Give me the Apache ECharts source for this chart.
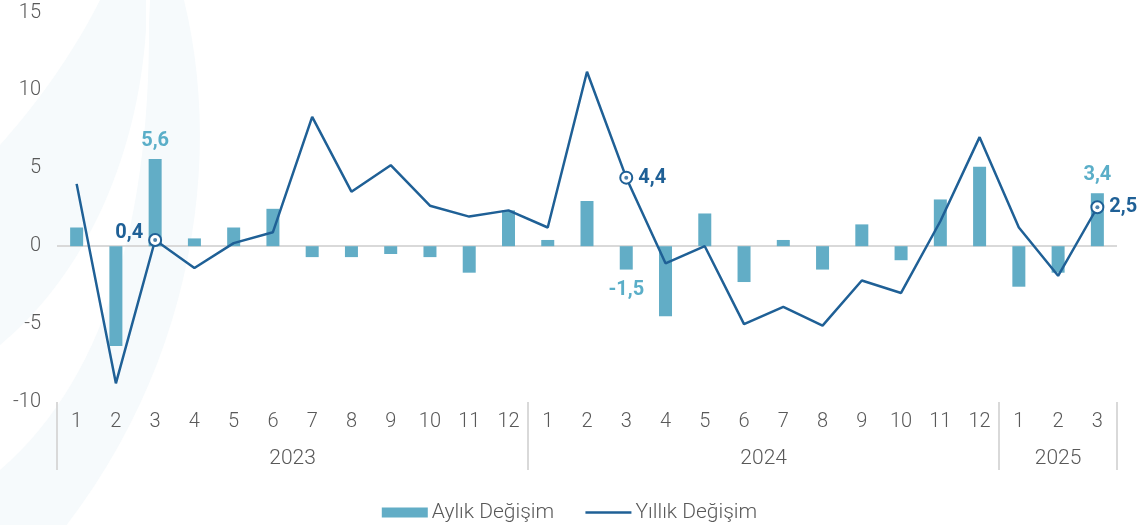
<!DOCTYPE html>
<html>
<head>
<meta charset="utf-8">
<script src="https://cdn.jsdelivr.net/npm/echarts@6/dist/echarts.min.js"></script>
<style>
html,body{margin:0;padding:0;background:#fff;}
#chart{width:1139px;height:525px;}
</style>
</head>
<body>
<div id="chart"></div>
<script>
// ---- data ----
const years = ['2023', '2024', '2025'];
const monthCounts = [12, 12, 3];
const months = ['1','2','3','4','5','6','7','8','9','10','11','12',
                '1','2','3','4','5','6','7','8','9','10','11','12',
                '1','2','3'];
const aylik = [1.2, -6.4, 5.6, 0.5, 1.2, 2.4, -0.7, -0.7, -0.5, -0.7, -1.7, 2.3,
               0.4, 2.9, -1.5, -4.5, 2.1, -2.3, 0.4, -1.5, 1.4, -0.9, 3.0, 5.1,
               -2.6, -1.7, 3.4];
const yillik = [4.0, -8.8, 0.4, -1.4, 0.2, 0.9, 8.3, 3.5, 5.2, 2.6, 1.9, 2.3,
                1.2, 11.2, 4.4, -1.1, 0.0, -5.0, -3.9, -5.1, -2.2, -3.0, 1.6, 7.0,
                1.2, -1.9, 2.5];
const barLabelIdx = [2, 14, 26];
const lineLabelIdx = [2, 14, 26];
const yTicks = [-10, -5, 0, 5, 10, 15];

const BAR = '#62adc6';
const LINE = '#1f6096';
const TXT = '#595959';
const SEP = '#d9d9d9';
const FONT = 'Roboto, "Liberation Sans", sans-serif';

const fmt = v => String(v).replace('.', ',');

// year axis: half-month slots (0..2N) so boundaries and centers are both slots
const totalMonths = monthCounts.reduce((a, b) => a + b, 0);
const yearSlots = [];
const yearLabelSlots = {};
const yearTickSlots = {0: true};
let acc = 0;
monthCounts.forEach((c, i) => {
  yearLabelSlots[acc * 2 + c] = years[i];
  acc += c;
  yearTickSlots[acc * 2] = true;
});
for (let s = 0; s <= totalMonths * 2; s++) yearSlots.push(yearLabelSlots[s] || '');

// decorative background watermark (approximate)
function bez(p0, p1, p2, p3, n) {
  const pts = [];
  for (let k = 0; k <= n; k++) {
    const t = k / n, u = 1 - t;
    pts.push([
      u*u*u*p0[0] + 3*u*u*t*p1[0] + 3*u*t*t*p2[0] + t*t*t*p3[0],
      u*u*u*p0[1] + 3*u*u*t*p1[1] + 3*u*t*t*p2[1] + t*t*t*p3[1]
    ]);
  }
  return pts;
}
const shapeA = [[150,0],[184,0]]
  .concat(bez([184,0],[228,180],[185,420],[0,600],30))
  .concat(bez([0,470],[105,380],[150,220],[149,23],30));
const shapeB = [[100,0],[146,0],[146,30]]
  .concat(bez([146,30],[138,150],[90,270],[0,345],30))
  .concat(bez([0,145],[40,100],[75,50],[100,0],20));

const barData = aylik.map((v, i) => {
  if (barLabelIdx.indexOf(i) >= 0) {
    return {value: v, label: {show: true, position: v >= 0 ? 'top' : 'bottom', distance: v >= 0 ? 8 : 10}};
  }
  return v;
});
const lineData = yillik.map((v, i) => {
  if (lineLabelIdx.indexOf(i) >= 0) {
    return {value: v, symbol: 'emptyCircle', symbolSize: 12,
            label: {show: true, position: i === 2 ? 'left' : 'right', distance: 5,
                    offset: i === 2 ? [0, -7] : [0, 0]}};
  }
  return {value: v, symbol: 'none'};
});
const dotData = yillik.map((v, i) => lineLabelIdx.indexOf(i) >= 0 ? v : '-');

const chart = echarts.init(document.getElementById('chart'), null, {renderer: 'canvas'});
chart.setOption({
  animation: false,
  backgroundColor: '#ffffff',
  textStyle: {fontFamily: FONT},
  graphic: [
    {type: 'polygon', z: -10, silent: true, shape: {points: shapeA}, style: {fill: '#f6fafc'}},
    {type: 'polygon', z: -10, silent: true, shape: {points: shapeB}, style: {fill: '#f6fafc'}}
  ],
  grid: {left: 57, right: 22, top: 12.5, bottom: 123, containLabel: false},
  legend: {
    top: 497, left: 'center',
    itemWidth: 46, itemHeight: 10, itemGap: 30,
    textStyle: {color: TXT, fontSize: 21, fontFamily: FONT, fontWeight: 300, padding: [0, 0, 0, -1]},
    data: [
      {name: 'Aylık Değişim', icon: 'rect'},
      {name: 'Yıllık Değişim', itemStyle: {opacity: 0, borderWidth: 0},
       lineStyle: {color: LINE, width: 2.5}}
    ]
  },
  xAxis: [
    {
      type: 'category', data: months, position: 'bottom',
      axisLine: {show: false}, axisTick: {show: false},
      axisLabel: {color: TXT, fontSize: 20, fontFamily: FONT, fontWeight: 300, margin: 10, interval: 0}
    },
    {
      type: 'category', data: yearSlots, position: 'bottom', boundaryGap: false,
      axisLine: {show: false},
      axisTick: {show: true, length: 68, inside: false,
                 interval: (idx) => !!yearTickSlots[idx],
                 lineStyle: {color: SEP, width: 2}},
      axisLabel: {color: TXT, fontSize: 21, fontFamily: FONT, fontWeight: 300, margin: 46,
                  interval: (idx, val) => val !== ''},
      splitLine: {show: false}
    }
  ],
  yAxis: {
    type: 'value', min: -10, max: 15, interval: 5,
    splitLine: {show: false},
    axisLine: {show: false}, axisTick: {show: false},
    axisLabel: {color: TXT, fontSize: 20, fontFamily: FONT, fontWeight: 300, margin: 16,
                formatter: v => yTicks.indexOf(v) >= 0 ? String(v) : ''}
  },
  series: [
    {
      name: 'Aylık Değişim', type: 'bar', xAxisIndex: 0, barWidth: 13,
      data: barData,
      itemStyle: {color: BAR},
      label: {show: false, color: '#5aaec8', fontWeight: 'bold', fontSize: 20, fontFamily: FONT,
              formatter: p => fmt(p.value)},
      markLine: {
        silent: true, symbol: 'none', label: {show: false},
        lineStyle: {color: SEP, width: 2, type: 'solid'},
        data: [{yAxis: 0}],
        z: 1
      },
      z: 2
    },
    {
      name: 'Yıllık Değişim', type: 'line', xAxisIndex: 0,
      data: lineData,
      symbol: 'none',
      lineStyle: {color: LINE, width: 2.5},
      itemStyle: {color: LINE, borderColor: LINE, borderWidth: 1.6},
      label: {show: false, color: LINE, fontWeight: 'bold', fontSize: 20, fontFamily: FONT,
              formatter: p => fmt(p.value)},
      z: 4
    },
    {
      name: 'dot', type: 'scatter', xAxisIndex: 0,
      data: dotData, symbol: 'circle', symbolSize: 4,
      itemStyle: {color: LINE}, z: 6, silent: true
    }
  ]
});
</script>
</body>
</html>
